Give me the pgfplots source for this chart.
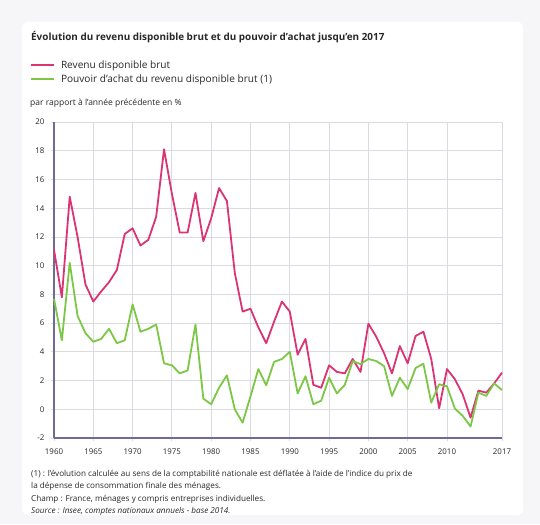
\documentclass[border=0pt]{standalone}
\usepackage{pgfplots}
\pgfplotsset{compat=1.18}
\usepackage{pgfplotstable}
\usepackage{fontspec}
\setmainfont{Open Sans}
\definecolor{pinkc}{RGB}{218,52,116}
\definecolor{greenc}{RGB}{124,200,70}
\definecolor{axisc}{RGB}{112,106,150}
\definecolor{gridc}{RGB}{218,218,224}
\definecolor{bgc}{RGB}{246,246,248}
\definecolor{txtc}{RGB}{40,40,40}
\pgfplotstableread{
year rdb pa
1960 11.1 7.7
1961 7.8 4.8
1962 14.8 10.2
1963 12.0 6.5
1964 8.7 5.3
1965 7.5 4.7
1966 8.2 4.9
1967 8.85 5.6
1968 9.7 4.6
1969 12.2 4.8
1970 12.6 7.3
1971 11.4 5.4
1972 11.8 5.6
1973 13.4 5.9
1974 18.1 3.2
1975 15.0 3.06
1976 12.3 2.5
1977 12.3 2.7
1978 15.06 5.9
1979 11.7 0.74
1980 13.3 0.35
1981 15.4 1.5
1982 14.5 2.36
1983 9.5 0.0
1984 6.8 -0.93
1985 7.0 0.9
1986 5.7 2.8
1987 4.6 1.67
1988 6.1 3.3
1989 7.5 3.5
1990 6.8 4.0
1991 3.8 1.1
1992 4.9 2.3
1993 1.7 0.35
1994 1.5 0.6
1995 3.06 2.2
1996 2.6 1.1
1997 2.5 1.7
1998 3.5 3.35
1999 2.6 3.15
2000 5.96 3.5
2001 5.05 3.36
2002 3.9 3.0
2003 2.5 0.93
2004 4.4 2.2
2005 3.2 1.4
2006 5.1 2.87
2007 5.4 3.17
2008 3.5 0.46
2009 0.07 1.74
2010 2.8 1.6
2011 2.1 0.05
2012 1.04 -0.46
2013 -0.58 -1.2
2014 1.3 1.16
2015 1.16 0.93
2016 1.8 1.8
2017 2.55 1.34
}\datatable
\begin{document}
\begin{tikzpicture}[x=1pt,y=1pt]
\fill[bgc] (0,0) rectangle (540,524);
\fill[white, rounded corners=6pt] (22,9) rectangle (523,502);
\node[anchor=west, inner sep=0pt, text=txtc, font=\fontsize{9.9}{11}\selectfont\bfseries] at (31,487) {Évolution du revenu disponible brut et du pouvoir d'achat jusqu'en 2017};
\node[anchor=west, inner sep=0pt, text=txtc, font=\fontsize{8.5}{9}\selectfont] at (30,421) {par rapport à l'année précédente en \%};
\begin{axis}[
  at={(54pt,86pt)}, anchor=south west, scale only axis,
  width=448pt, height=316pt,
  xmin=1960, xmax=2017, ymin=-2, ymax=20,
  xtick={1960,1965,1970,1975,1980,1985,1990,1995,2000,2005,2010,2017},
  ytick={-2,0,2,4,6,8,10,12,14,16,18,20},
  /pgf/number format/1000 sep=,
  /pgf/number format/assume math mode=true,
  grid=major, major grid style={gridc, line width=0.8pt},
  axis x line*=bottom, axis y line*=left,
  axis line style={axisc, line width=1.1pt, -},
  tick align=outside, major tick length=3pt,
  tick style={gridc, line width=0.8pt},
  tick label style={font=\fontsize{7.9}{9}\selectfont, text=txtc},
  xticklabel style={yshift=-4.5pt},
  yticklabel style={xshift=-3pt},
  clip=false,
  legend cell align=left,
  legend style={at={(0,1)}, anchor=south west, xshift=-24pt, yshift=36pt,
    draw=none, fill=none, font=\fontsize{10.1}{11}\selectfont, text=txtc,
    row sep=1pt, inner sep=0pt},
  legend image code/.code={\draw[#1, line width=1.8pt] (0pt,0pt) -- (23pt,0pt); \path (27pt,0pt);},
  every axis plot/.append style={line width=1.8pt, line join=round},
]
\addplot[pinkc, mark=none] table[x=year, y=rdb] {\datatable};
\addlegendentry{Revenu disponible brut}
\addplot[greenc, mark=none] table[x=year, y=pa] {\datatable};
\addlegendentry{Pouvoir d'achat du revenu disponible brut (1)}
\end{axis}
\begin{scope}[every node/.style={anchor=west, inner sep=0pt, text=txtc, font=\fontsize{8.15}{9}\selectfont}]
\node at (31,50) {(1) : l'évolution calculée au sens de la comptabilité nationale est déflatée à l'aide de l'indice du prix de};
\node at (31,37.5) {la dépense de consommation finale des ménages.};
\node at (31,25) {Champ : France, ménages y compris entreprises individuelles.};
\node at (31,13) {\itshape Source : Insee, comptes nationaux annuels - base 2014.};
\end{scope}
\end{tikzpicture}
\end{document}
